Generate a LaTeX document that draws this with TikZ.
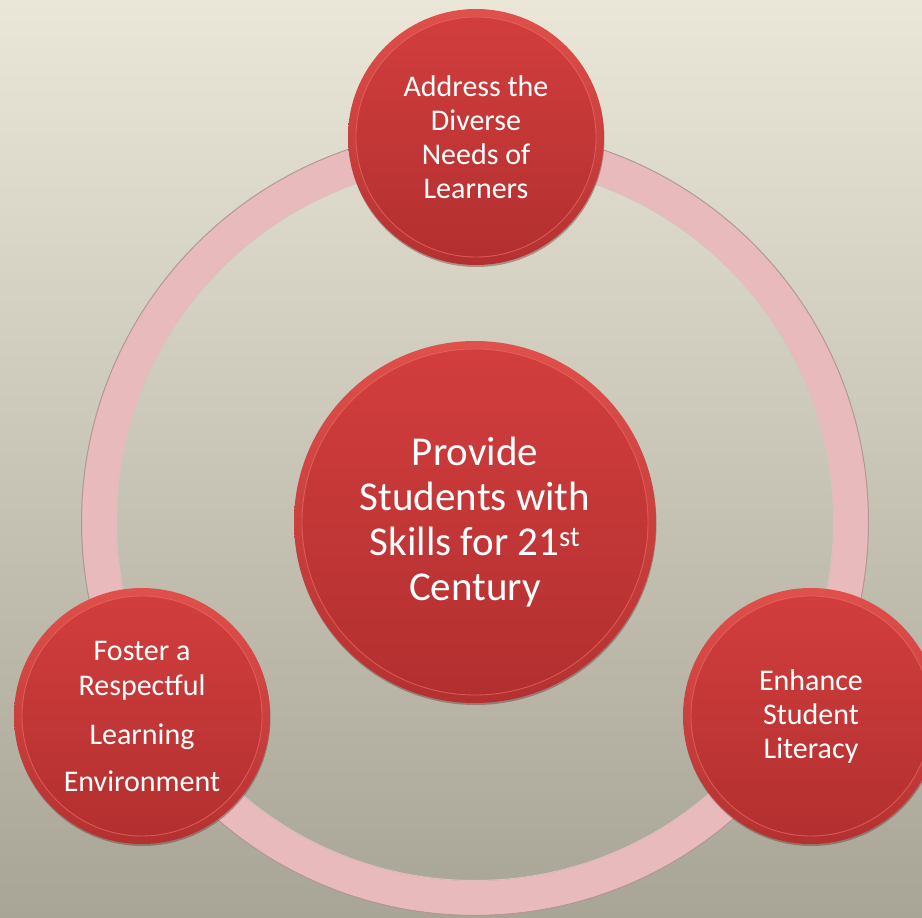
\documentclass[tikz,border=0pt]{standalone}
\usepackage{fontspec}
\setmainfont{Carlito}
\definecolor{bgtop}{RGB}{234,231,217}
\definecolor{bgbot}{RGB}{168,165,151}
\definecolor{ringc}{RGB}{232,186,187}
\definecolor{ringedge}{RGB}{180,150,150}
\definecolor{ringinner}{RGB}{222,190,190}
\definecolor{rimtop}{RGB}{224,80,76}
\definecolor{rimbot}{RGB}{180,48,48}
\definecolor{disctop}{RGB}{211,62,62}
\definecolor{discbot}{RGB}{178,47,47}
\definecolor{hilite}{RGB}{232,106,100}
\definecolor{shadowc}{RGB}{100,40,40}
\tikzset{
  disc/.style={circle, minimum size=#1, inner sep=0pt, text=white, align=center,
    top color=rimtop, bottom color=rimbot,
    path picture={\shade[top color=disctop, bottom color=discbot, draw=hilite, draw opacity=0.7, line width=0.9pt]
      (path picture bounding box.center) circle[radius=#1/2-8pt];}},
  discshadow/.style={fill=shadowc, fill opacity=0.4},
  smalltext/.style={font=\fontsize{30}{34}\selectfont},
  lefttext/.style={font=\fontsize{30}{35}\selectfont},
  bigtext/.style={font=\fontsize{41}{45}\selectfont},
  ringouter/.style={draw=ringedge, line width=1pt},
  ringinnerline/.style={draw=ringinner, line width=1pt},
  ringline/.style={draw=ringc, line width=34pt},
}
\begin{document}
\begin{tikzpicture}[x=1pt, y=-1pt]
  \useasboundingbox (0,0) rectangle (922,918);
  \clip (0,0) rectangle (922,918);
  \shade[top color=bgtop, bottom color=bgbot] (0,0) rectangle (922,918);

  \coordinate (cc) at (475,522);
  \coordinate (ct) at (476,137);
  \coordinate (cl) at (142,716);
  \coordinate (cr) at (811,716);

  % ring
  \draw[ringline] (cc) circle[radius=376pt];
  \draw[ringouter] (cc) circle[radius=393.5pt];
  \draw[ringinnerline] (cc) circle[radius=358.5pt];

  % shadows
  \fill[discshadow] ([shift={(0.5pt,-2pt)}]cc) circle[radius=181pt];
  \fill[discshadow] ([shift={(0.5pt,-2pt)}]ct) circle[radius=128pt];
  \fill[discshadow] ([shift={(0.5pt,-2pt)}]cl) circle[radius=128pt];
  \fill[discshadow] ([shift={(0.5pt,-2pt)}]cr) circle[radius=128pt];

  % discs
  \node[disc=362pt, bigtext] (center) at (cc)
    {Provide\\Students with\\Skills for 21\textsuperscript{st}\\Century};
  \node[disc=256pt, smalltext] (top) at (ct)
    {Address the\\Diverse\\Needs of\\Learners};
  \node[disc=256pt, lefttext] (left) at (cl)
    {Foster a\\Respectful\\[14pt]Learning\\[12pt]Environment};
  \node[disc=256pt, smalltext] (right) at (cr)
    {Enhance\\Student\\Literacy};
\end{tikzpicture}
\end{document}
